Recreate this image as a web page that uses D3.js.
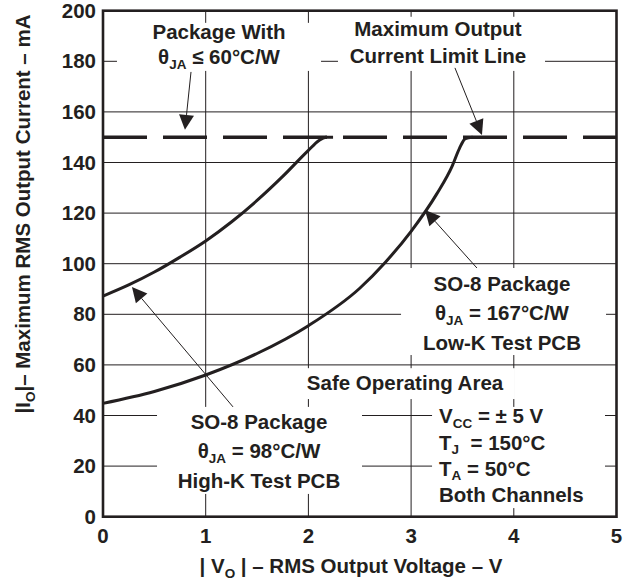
<!DOCTYPE html>
<html><head><meta charset="utf-8">
<script src="https://cdn.jsdelivr.net/npm/d3@7"></script>
<style>
body{margin:0;background:#fff}
text{font-family:"Liberation Sans",Arial,Helvetica,sans-serif;font-weight:bold;fill:#231f20}
</style>
</head><body>
<svg id="c" width="624" height="583"></svg>
<script>
// ---- data ----
const xTicks = [0, 1, 2, 3, 4, 5];
const yTicks = [0, 20, 40, 60, 80, 100, 120, 140, 160, 180, 200];
const limitCurrent = 150; // mA, maximum output current limit line
const highKVoltage = [0, 0.25, 0.5, 0.75, 1.0, 1.25, 1.5, 1.75, 2.0, 2.1, 2.17, 2.24];
const highKCurrent = [87.2, 91.6, 96.7, 102.6, 109.0, 116.5, 125.0, 134.5, 144.8, 148.6, 150, 150];
const lowKVoltage = [0, 0.5, 1.0, 1.5, 2.0, 2.5, 2.75, 3.0, 3.25, 3.4, 3.47, 3.53, 3.6];
const lowKCurrent = [44.8, 49.5, 56, 64.5, 75.5, 90.3, 100.6, 112.8, 127.6, 138.6, 145.5, 149.5, 150];

// ---- layout ----
const FS = 20.5, SUB = 13.5, SH = 4.5;
const svg = d3.select("#c");
const x = d3.scaleLinear().domain([0, 5]).range([103, 616.5]);
const y = d3.scaleLinear().domain([0, 200]).range([516.7, 10.7]);
const ink = "#231f20";

// grid
const grid = svg.append("g");
grid.selectAll("line.v").data(xTicks.slice(1, -1)).join("line")
  .attr("x1", d => x(d)).attr("x2", d => x(d)).attr("y1", y(0)).attr("y2", y(200))
  .attr("stroke", ink).attr("stroke-width", 1);
grid.selectAll("line.h").data(yTicks.slice(1, -1)).join("line")
  .attr("y1", d => y(d)).attr("y2", d => y(d)).attr("x1", x(0)).attr("x2", x(5))
  .attr("stroke", ink).attr("stroke-width", 1);

// white boxes behind annotations (data units)
const boxes = [
  [0.136, 2.123, 195.2, 176.2],
  [2.288, 4.304, 197.6, 176.2],
  [0.526, 2.522, 43.4, 9.0],
  [2.902, 4.898, 98.3, 63.9],
  [1.899, 4.011, 58.7, 46.5],
  [3.204, 4.888, 43.4, 3.4]
];
svg.append("g").selectAll("rect").data(boxes).join("rect")
  .attr("x", d => x(d[0])).attr("width", d => x(d[1]) - x(d[0]))
  .attr("y", d => y(d[2])).attr("height", d => y(d[3]) - y(d[2]))
  .attr("fill", "#fff");

// limit line
svg.append("line")
  .attr("x1", x(0)).attr("x2", x(5)).attr("y1", y(limitCurrent)).attr("y2", y(limitCurrent))
  .attr("stroke", ink).attr("stroke-width", 3.4).attr("stroke-dasharray", "44,16");

// curves
const line = d3.line().x(d => x(d[0])).y(d => y(d[1])).curve(d3.curveMonotoneX);
svg.append("path").attr("d", line(d3.zip(highKVoltage, highKCurrent)))
  .attr("fill", "none").attr("stroke", ink).attr("stroke-width", 3);
svg.append("path").attr("d", line(d3.zip(lowKVoltage, lowKCurrent)))
  .attr("fill", "none").attr("stroke", ink).attr("stroke-width", 3);

// frame
svg.append("rect").attr("x", x(0)).attr("y", y(200))
  .attr("width", x(5) - x(0)).attr("height", y(0) - y(200))
  .attr("fill", "none").attr("stroke", ink).attr("stroke-width", 2.6);

// tick labels
svg.append("g").selectAll("text").data(yTicks).join("text")
  .attr("x", 96).attr("y", d => y(d) + 7).attr("text-anchor", "end")
  .attr("font-size", FS).text(d => d);
svg.append("g").selectAll("text").data(xTicks).join("text")
  .attr("x", d => x(d)).attr("y", 543).attr("text-anchor", "middle")
  .attr("font-size", FS).text(d => d);

// rich text helper: parts = [[text, isSub], ...]
function rich(xp, yp, parts, anchor) {
  const t = svg.append("text").attr("x", xp).attr("y", yp)
    .attr("text-anchor", anchor || "middle").attr("font-size", FS)
    .attr("xml:space", "preserve");
  let shifted = false;
  parts.forEach(p => {
    const s = t.append("tspan").text(p[0]);
    if (p[1] && !shifted) { s.attr("font-size", SUB).attr("dy", SH); shifted = true; }
    else if (!p[1] && shifted) { s.attr("dy", -SH); shifted = false; }
    else if (p[1]) s.attr("font-size", SUB);
  });
  return t;
}

// annotation 1
rich(x(1.13), y(188.8), [["Package With"]]);
rich(x(1.13), y(178.9), [["θ"], ["JA", 1], [" ≤ 60°C/W"]]);
// annotation 2
rich(x(3.262), y(190.0), [["Maximum Output"]]);
rich(x(3.262), y(179.3), [["Current Limit Line"]]);
// annotation 3
rich(x(1.519), y(34.7), [["SO-8 Package"]]);
rich(x(1.519), y(23.2), [["θ"], ["JA", 1], [" = 98°C/W"]]);
rich(x(1.519), y(11.3), [["High-K Test PCB"]]);
// annotation 4
rich(x(3.885), y(89.2), [["SO-8 Package"]]);
rich(x(3.885), y(77.7), [["θ"], ["JA", 1], [" = 167°C/W"]]);
rich(x(3.885), y(65.9), [["Low-K Test PCB"]]);
// annotation 5
rich(x(2.941), y(50.0), [["Safe Operating Area"]]);
// annotation 6
rich(x(3.272), y(37.0), [["V"], ["CC", 1], [" = ± 5 V"]], "start");
rich(x(3.272), y(26.4), [["T"], ["J", 1], ["  = 150°C"]], "start");
rich(x(3.272), y(16.1), [["T"], ["A", 1], [" = 50°C"]], "start");
rich(x(3.272), y(5.8), [["Both Channels"]], "start");

// arrows: [fromX, fromY, tipX, tipY] in data units
const arrows = [
  [0.857, 175.8, 0.798, 152.9],
  [3.427, 177.4, 3.690, 150.9],
  [1.266, 43.4, 0.282, 90.8],
  [3.641, 98.3, 3.135, 121.2]
];
const ag = svg.append("g");
arrows.forEach(a => {
  const x1 = x(a[0]), y1 = y(a[1]), x2 = x(a[2]), y2 = y(a[3]);
  const dx = x2 - x1, dy = y2 - y1, L = Math.hypot(dx, dy);
  const ux = dx / L, uy = dy / L, len = 15, hw = 7.5;
  const bx = x2 - ux * len, by = y2 - uy * len;
  ag.append("line").attr("x1", x1).attr("y1", y1).attr("x2", bx).attr("y2", by)
    .attr("stroke", ink).attr("stroke-width", 1);
  ag.append("path")
    .attr("d", `M${x2},${y2}L${bx - uy * hw},${by + ux * hw}L${bx + uy * hw},${by - ux * hw}Z`)
    .attr("fill", ink);
});

// axis titles
const xt = svg.append("text").attr("x", 351).attr("y", 573).attr("text-anchor", "middle")
  .attr("font-size", FS).attr("xml:space", "preserve");
xt.append("tspan").text("| V");
xt.append("tspan").text("O").attr("font-size", SUB).attr("dy", SH);
xt.append("tspan").text(" | – RMS Output Voltage – V").attr("dy", -SH);

const yt = svg.append("text").attr("transform", "translate(30,214) rotate(-90)")
  .attr("text-anchor", "middle").attr("font-size", FS).attr("xml:space", "preserve");
yt.append("tspan").text("|I");
yt.append("tspan").text("O").attr("font-size", SUB).attr("dy", SH);
yt.append("tspan").text("|– Maximum RMS Output Current – mA").attr("dy", -SH);
</script>
</body></html>
